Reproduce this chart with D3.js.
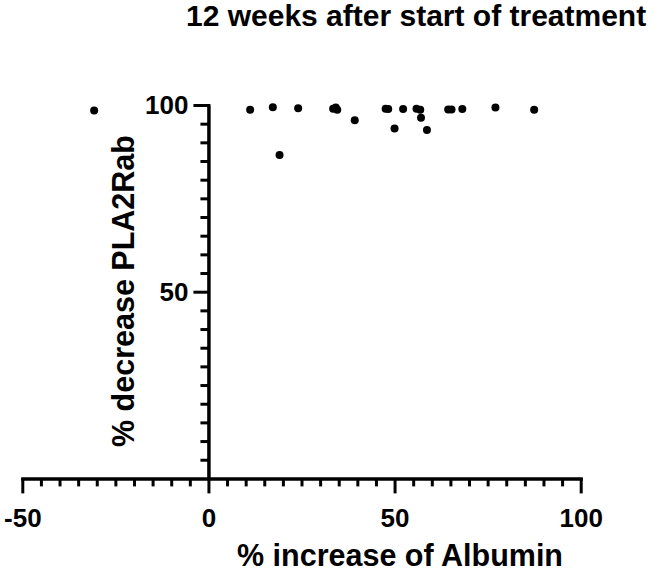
<!DOCTYPE html>
<html>
<head>
<meta charset="utf-8">
<script src="https://cdn.jsdelivr.net/npm/d3@7"></script>
<style>
  html, body { margin: 0; padding: 0; background: #fff; }
  svg { display: block; }
  text { font-family: "Liberation Sans", Arial, Helvetica, sans-serif; font-weight: bold; fill: #000; }
</style>
</head>
<body>
<svg id="chart" width="664" height="576"></svg>
<script>
// ---- data ----
const albuminIncrease = [-30.7, 11.2, 17.3, 19.1, 24.1, 33.5, 34.2, 34.6, 39.3, 47.6, 48.3,
                         50.0, 52.3, 55.9, 56.9, 57.1, 58.7, 64.4, 65.3, 68.2, 77.1, 87.5];
const pla2rDecrease   = [98.5, 98.7, 99.4, 86.6, 99.1, 99.0, 99.3, 98.7, 95.9, 99.0, 98.9,
                         93.7, 98.9, 99.0, 98.7, 96.6, 93.3, 98.8, 98.8, 98.9, 99.3, 98.7];
const xMajorTicks = [-50, 0, 50, 100];
const yMajorTicks = [50, 100];
const xMinorTicks = d3.range(-50, 101, 5).filter(v => !xMajorTicks.includes(v));
const yMinorTicks = d3.range(5, 100, 5).filter(v => !yMajorTicks.includes(v));
const titleText = "12 weeks after start of treatment";
const xLabel = "% increase of Albumin";
const yLabel = "% decrease PLA2Rab";

const svg = d3.select("#chart");
const x = d3.scaleLinear().domain([-50, 100]).range([22.3, 580.7]);
const y = d3.scaleLinear().domain([0, 100]).range([478.4, 105]);

const axisColor = "#000";
const sw = 3;
const fmt = d => String(d);

// x axis minor
const gxMinor = svg.append("g").attr("transform", `translate(0,${y(0)})`)
  .call(d3.axisBottom(x).tickValues(xMinorTicks).tickSize(8).tickSizeOuter(0).tickFormat(""));
// x axis major
const gx = svg.append("g").attr("transform", `translate(0,${y(0)})`)
  .call(d3.axisBottom(x).tickValues(xMajorTicks).tickSize(15).tickSizeOuter(0).tickPadding(15)
        .tickFormat(fmt));
// y axis minor
const gyMinor = svg.append("g").attr("transform", `translate(${x(0)},0)`)
  .call(d3.axisLeft(y).tickValues(yMinorTicks).tickSize(8).tickSizeOuter(0).tickFormat(""));
// y axis major
const gy = svg.append("g").attr("transform", `translate(${x(0)},0)`)
  .call(d3.axisLeft(y).tickValues(yMajorTicks).tickSize(15).tickSizeOuter(0).tickPadding(5)
        .tickFormat(fmt));

[gxMinor, gx, gyMinor, gy].forEach(g => {
  g.selectAll("path.domain").attr("stroke", axisColor).attr("stroke-width", sw)
    .attr("stroke-linecap", "square");
  g.selectAll(".tick line").attr("stroke", axisColor).attr("stroke-width", sw);
  g.selectAll(".tick text").style("font-size", "26px").style("font-weight", "bold")
    .attr("fill", "#000").style("font-family", '"Liberation Sans", Arial, sans-serif');
});
gy.select("path.domain").attr("stroke-linecap", "butt");

// points
svg.append("g").selectAll("circle")
  .data(albuminIncrease.map((v, i) => [v, pla2rDecrease[i]]))
  .join("circle")
  .attr("cx", d => x(d[0]))
  .attr("cy", d => y(d[1]))
  .attr("r", 4)
  .attr("fill", "#000");

// title
svg.append("text").attr("x", 186).attr("y", 26)
  .style("font-size", "30px").text(titleText);

// x label
svg.append("text").attr("x", 400).attr("y", 566).attr("text-anchor", "middle")
  .style("font-size", "30.5px").text(xLabel);

// y label
svg.append("text").attr("transform", "translate(134,291) rotate(-90)")
  .attr("text-anchor", "middle")
  .style("font-size", "30.5px").text(yLabel);
</script>
</body>
</html>
